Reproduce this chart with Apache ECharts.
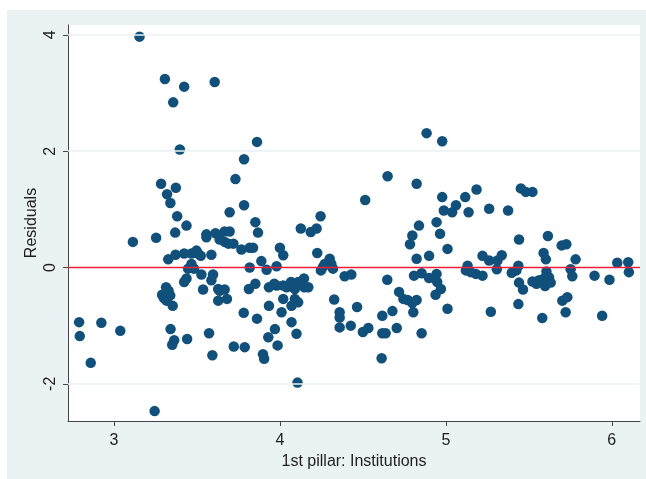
<!DOCTYPE html>
<html>
<head>
<meta charset="utf-8">
<script src="https://cdn.jsdelivr.net/npm/echarts@6/dist/echarts.min.js"></script>
<style>
html,body{margin:0;padding:0;background:#fff;}
#chart{width:646px;height:479px;}
</style>
</head>
<body>
<div id="chart"></div>
<script>
// X: 1st pillar: Institutions ; Y: Residuals
var pillarX = [
 2.790,2.794,2.924,2.860,3.038,3.245,3.114,3.254,3.154,3.284,
 3.307,3.423,3.357,3.607,3.397,3.373,3.320,3.340,3.381,3.437,
 3.369,3.557,3.557,3.612,3.327,3.371,3.423,3.467,3.497,3.507,
 3.523,3.587,3.467,3.483,3.527,3.447,3.437,3.423,3.597,3.587,
 3.537,3.290,3.314,3.329,3.317,3.339,3.354,3.300,3.341,3.363,
 3.351,3.441,3.573,3.593,3.325,
 3.628,3.637,3.667,3.628,3.681,3.667,3.697,3.637,3.667,3.690,
 3.720,3.768,3.818,3.838,3.888,3.818,3.697,3.784,3.852,3.868,
 3.784,3.732,3.862,3.782,3.862,3.813,3.852,3.722,3.788,3.898,
 3.905,
 3.920,3.980,4.000,4.020,3.934,3.966,3.980,4.020,4.040,4.067,
 4.080,4.090,4.110,4.145,4.147,4.171,3.934,4.020,4.010,4.070,
 4.090,4.110,4.070,4.100,3.970,3.930,3.986,4.106,4.126,4.186,
 4.221,4.245,4.225,4.247,4.260,4.300,4.310,4.320,4.270,4.390,
 4.430,4.327,4.360,4.360,4.360,4.427,4.465,4.500,
 4.884,4.978,4.649,4.514,4.824,4.978,4.988,5.038,5.061,4.838,
 4.798,4.784,4.944,4.965,5.010,4.824,4.899,4.647,4.808,4.854,
 4.899,4.944,4.948,4.970,4.938,4.718,4.744,4.770,4.798,4.824,
 4.804,5.010,4.533,4.617,4.617,4.637,4.678,4.704,4.854,4.613,
 5.117,5.185,5.137,5.261,5.375,5.452,5.482,5.522,5.441,5.615,
 5.589,5.603,5.698,5.726,5.782,5.221,5.261,5.311,5.337,5.307,
 5.131,5.121,5.181,5.221,5.150,5.397,5.425,5.437,5.441,5.465,
 5.522,5.546,5.562,5.598,5.592,5.606,5.622,5.632,5.752,5.762,
 5.896,5.986,6.033,6.099,6.103,5.271,5.437,5.581,5.702,5.732,
 5.722,5.942
];
var residualY = [
 -0.94,-1.18,-0.95,-1.64,-1.09,-2.47,0.44,0.51,3.97,1.44,
 3.24,3.11,2.84,3.19,2.03,1.37,1.26,1.11,0.88,0.72,
 0.60,0.57,0.52,0.59,0.14,0.22,0.24,0.24,0.29,0.24,
 0.20,0.22,0.06,-0.02,-0.12,-0.02,-0.19,-0.25,-0.12,-0.22,
 -0.38,-0.47,-0.34,-0.40,-0.57,-0.48,-0.66,-0.52,-1.06,-1.25,
 -1.33,-1.23,-1.13,-1.51,-0.42,
 -0.37,-0.40,-0.38,-0.57,-0.54,0.62,0.62,0.48,0.44,0.41,
 0.41,0.31,0.34,0.34,0.11,0.00,0.95,1.07,0.78,0.60,
 1.86,1.52,2.16,-0.78,-0.88,-0.37,-0.28,-1.36,-1.37,-1.49,
 -1.57,
 -0.04,0.02,0.34,0.21,-0.34,-0.28,-0.31,-0.31,-0.34,-0.25,
 -0.34,-0.37,-0.25,-0.19,-0.34,-0.34,-0.66,-0.54,-0.77,-0.66,
 -0.54,-0.60,-0.94,-1.14,-1.06,-1.20,-1.34,-1.98,0.67,0.61,
 0.67,0.88,0.25,-0.05,0.01,0.15,0.06,-0.02,0.06,-0.15,
 -0.12,-0.55,-0.77,-0.86,-1.03,-1.00,-0.68,-1.11,
 2.31,2.17,1.57,1.16,1.44,1.21,0.98,0.95,1.07,0.72,
 0.55,0.40,0.78,0.58,0.32,0.15,0.20,-0.21,-0.14,-0.10,
 -0.18,-0.11,-0.25,-0.37,-0.47,-0.42,-0.54,-0.56,-0.61,-0.56,
 -0.77,-0.71,-1.04,-0.83,-1.13,-1.13,-0.75,-1.04,-1.13,-1.56,
 1.21,1.34,0.95,1.01,0.98,1.36,1.30,1.30,0.48,0.54,
 0.25,0.14,0.38,0.40,0.14,0.20,0.12,0.12,0.21,-0.03,
 0.03,-0.05,-0.11,-0.14,-0.08,-0.09,-0.05,0.03,-0.26,-0.38,
 -0.24,-0.28,-0.22,-0.32,-0.19,-0.07,-0.17,-0.26,-0.03,-0.15,
 -0.14,-0.21,0.08,0.09,-0.08,-0.76,-0.63,-0.87,-0.57,-0.51,
 -0.77,-0.83
];
var xTicks = [3, 4, 5, 6];
var yTicks = [-2, 0, 2, 4];
var xRange = [2.723, 6.17];
var yRange = [-2.64, 4.17];

var points = pillarX.map(function (x, i) { return [x, residualY[i]]; });
var gridLines = yTicks.filter(function (v) { return v !== 0; }).map(function (v) { return { yAxis: v }; });

var chart = echarts.init(document.getElementById('chart'), null, { renderer: 'canvas' });
var txt = '#1e1e1e';
var axisCol = '#444';
var font = 'Liberation Sans, Arial, sans-serif';
chart.setOption({
  backgroundColor: '#eaf2f3',
  animation: false,
  graphic: [
    { type: 'rect', shape: { x: 0, y: 0, width: 646, height: 10 }, style: { fill: '#fff' }, silent: true },
    { type: 'rect', shape: { x: 0, y: 0, width: 7, height: 479 }, style: { fill: '#fff' }, silent: true }
  ],
  grid: { left: 68, right: 6, top: 25, bottom: 58, show: true, backgroundColor: '#fff', borderWidth: 0 },
  xAxis: {
    type: 'value', min: xRange[0], max: xRange[1],
    name: '1st pillar: Institutions', nameLocation: 'middle', nameGap: 26,
    nameTextStyle: { fontFamily: font, fontSize: 16, color: txt },
    axisLine: { show: true, onZero: false, lineStyle: { color: axisCol, width: 1 } },
    axisTick: { show: true, length: 5, customValues: xTicks, lineStyle: { color: axisCol } },
    axisLabel: { customValues: xTicks, margin: 12, fontFamily: font, fontSize: 16, color: txt },
    splitLine: { show: false }
  },
  yAxis: {
    type: 'value', min: yRange[0], max: yRange[1],
    name: 'Residuals', nameLocation: 'middle', nameGap: 28, nameMoveOverlap: false,
    nameTextStyle: { fontFamily: font, fontSize: 16, color: txt },
    axisLine: { show: true, onZero: false, lineStyle: { color: axisCol, width: 1 } },
    axisTick: { show: true, length: 5, customValues: yTicks, lineStyle: { color: axisCol } },
    axisLabel: { customValues: yTicks, rotate: 90, margin: 9, fontFamily: font, fontSize: 16, color: txt },
    splitLine: { show: false }
  },
  series: [
    {
      type: 'line', data: [], z: 1, silent: true,
      markLine: { silent: true, symbol: 'none', label: { show: false },
        lineStyle: { color: '#eaf2f3', width: 1.5, type: 'solid' }, data: gridLines }
    },
    {
      type: 'line', data: [], z: 2, silent: true,
      markLine: { silent: true, symbol: 'none', label: { show: false },
        lineStyle: { color: '#e8203a', width: 1.3, type: 'solid' }, data: [{ yAxis: 0 }] }
    },
    {
      type: 'scatter', data: points, z: 3, symbol: 'circle', symbolSize: 10.5,
      itemStyle: { color: '#10507a', opacity: 1 }
    }
  ]
});
</script>
</body>
</html>
